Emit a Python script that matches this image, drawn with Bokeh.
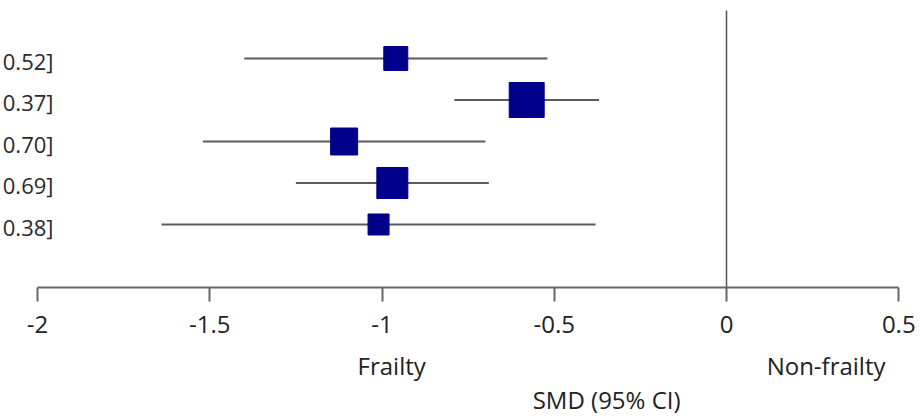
from bokeh.plotting import figure
from bokeh.models import ColumnDataSource, Range1d, LinearAxis, FixedTicker, Label
from bokeh.core.properties import value
from bokeh.embed import file_html
from bokeh.resources import INLINE
import math

# ---- data ----
estimates = [-0.96, -0.58, -1.11, -0.97, -1.01]
ci_lower = [-1.40, -0.79, -1.52, -1.25, -1.64]
ci_upper = [-0.52, -0.37, -0.70, -0.69, -0.38]
weights = [14.6, 31.1, 18.5, 24.4, 11.2]
row_labels = ["0.52]", "0.37]", "0.70]", "0.69]", "0.38]"]
x_ticks = [-2, -1.5, -1, -0.5, 0, 0.5]
x_tick_labels = ["-2", "-1.5", "-1", "-0.5", "0", "0.5"]
side_labels = ["Frailty", "Non-frailty"]
axis_title = "SMD (95% CI)"

rows = list(range(len(estimates)))
max_w = max(weights)
sizes = [35 * math.sqrt(w / max_w) for w in weights]

src = ColumnDataSource(dict(
    row=rows, est=estimates, lo=ci_lower, hi=ci_upper,
    size=sizes, lab=row_labels,
    lab_x=[-1.9536] * len(rows),
    lab_y=[r + 0.05 for r in rows],
))

FONT = "Open Sans"
AXIS_Y = 5.518

p = figure(width=920, height=419,
           x_range=Range1d(-2.1074, 0.5631),
           y_range=Range1d(8.699, -1.3976),
           x_axis_location=None, y_axis_location=None,
           min_border=0,
           outline_line_color=None,
           background_fill_color="white", border_fill_color="white",
           output_backend="svg", toolbar_location=None)
p.xgrid.visible = False
p.ygrid.visible = False

# vertical no-effect line
p.segment(x0=[0], x1=[0], y0=[-1.157], y1=[AXIS_Y], line_color="#555555", line_width=1.5)

# confidence intervals
p.segment(x0="lo", x1="hi", y0="row", y1="row", source=src,
          line_color="#5a5a5a", line_width=2)

# point estimates
p.scatter(x="est", y="row", size="size", marker="square", source=src,
          fill_color="#00008B", line_color="#00008B")

# truncated left labels
p.text(x="lab_x", y="lab_y", text="lab", source=src,
       text_align="right", text_baseline="middle",
       text_font=value(FONT), text_font_size=value("22px"),
       text_color="#2a2a2a")

# x axis drawn at a fixed location inside the frame
ax = LinearAxis(ticker=FixedTicker(ticks=x_ticks), bounds=(-2, 0.5),
                fixed_location=AXIS_Y)
ax.major_label_overrides = {t: l for t, l in zip(x_ticks, x_tick_labels)}
ax.axis_line_color = "#666666"
ax.axis_line_width = 2
ax.major_tick_line_color = "#666666"
ax.major_tick_line_width = 2
ax.major_tick_in = 0
ax.major_tick_out = 14
ax.minor_tick_line_color = None
ax.major_label_standoff = 15
ax.major_label_text_font = FONT
ax.major_label_text_font_size = "24px"
ax.major_label_text_color = "#222222"
p.add_layout(ax, "below")

# direction labels and axis title
for txt, xv in zip(side_labels, [-0.972, 0.289]):
    p.add_layout(Label(x=xv, y=7.40, text=txt, text_align="center",
                       text_baseline="alphabetic", text_font=FONT,
                       text_font_size="24px", text_color="#222222"))
p.add_layout(Label(x=-0.348, y=8.22, text=axis_title, text_align="center",
                   text_baseline="alphabetic", text_font=FONT,
                   text_font_size="24px", text_color="#222222"))

open("out.html", "w").write(file_html(p, INLINE))
